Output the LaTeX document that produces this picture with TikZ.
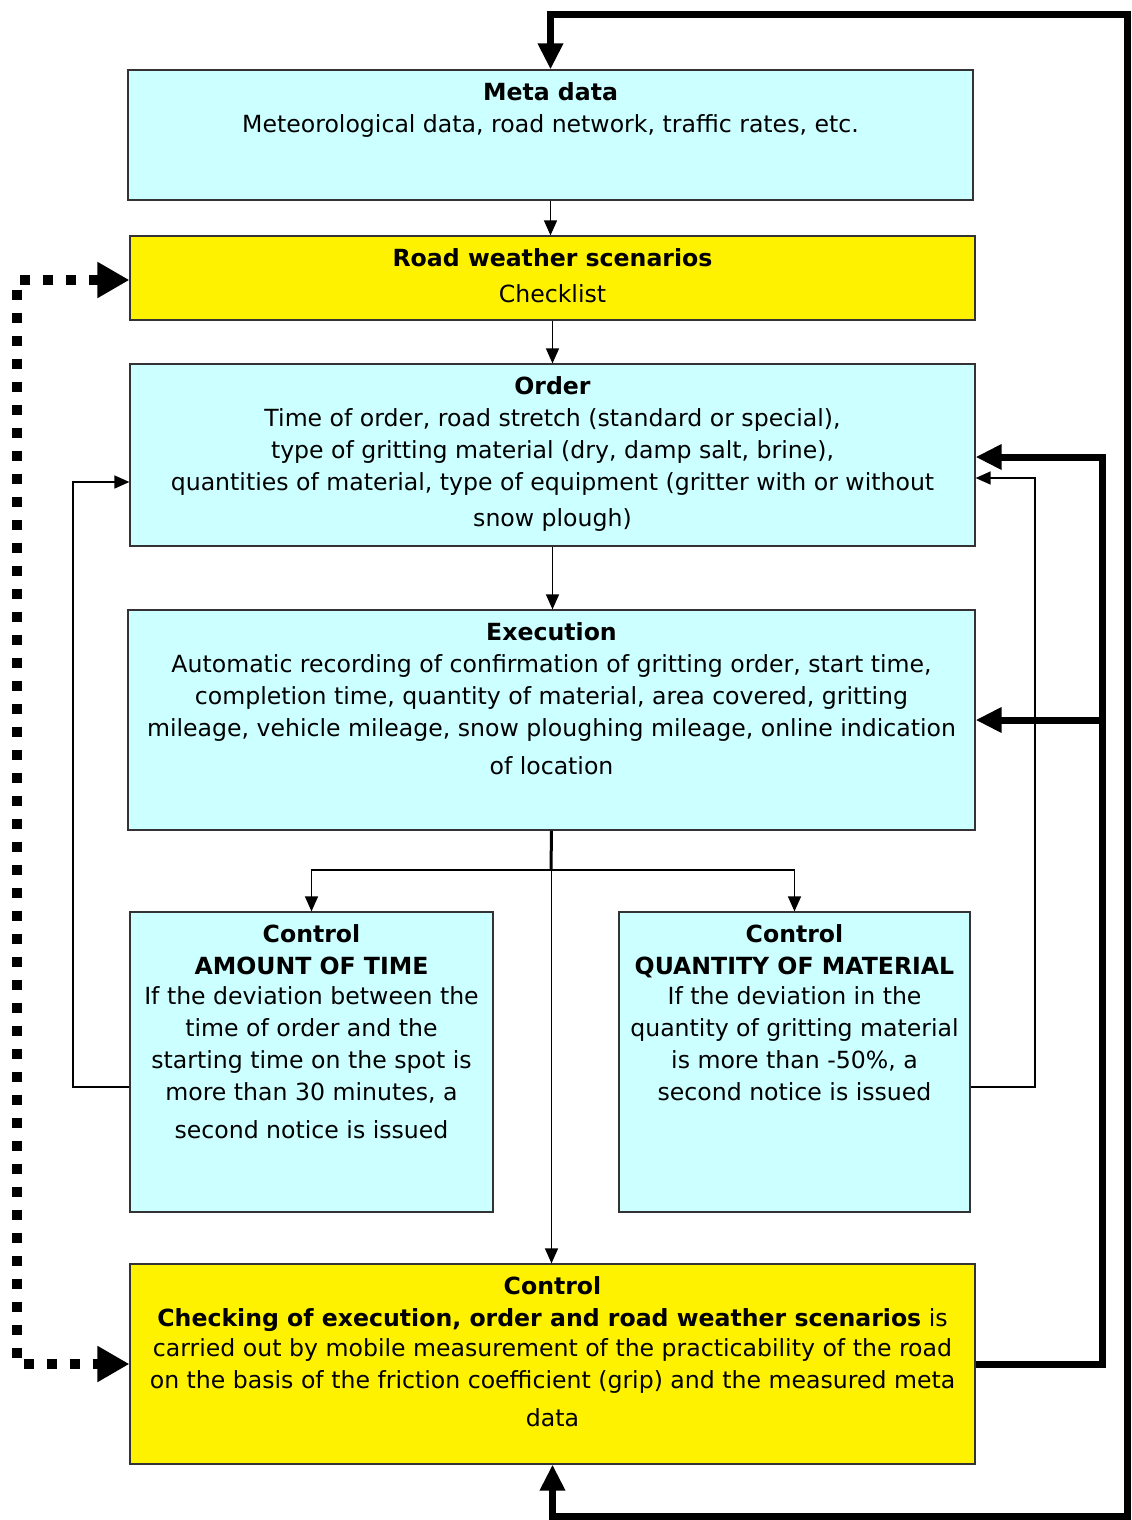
\documentclass[tikz,border=0pt]{standalone}
\usepackage{fontspec}
\setmainfont{DejaVu Sans}
\usetikzlibrary{positioning,arrows.meta}
\definecolor{boxcyan}{RGB}{204,255,255}
\definecolor{boxyellow}{RGB}{255,242,0}
\begin{document}
\begin{tikzpicture}[x=0.5pt,y=-0.5pt,
every node/.style={font=\fontsize{11.8pt}{16pt}\selectfont},
boxc/.style={draw=black!80,line width=0.6pt,fill=boxcyan,inner sep=0pt},
boxy/.style={boxc,fill=boxyellow},
boxtext/.style={align=center,inner sep=2pt},
thinarrow/.style={line width=0.7pt,-{Triangle[length=7.5pt,width=6.5pt]}},
thickline/.style={line width=3.5pt},
bigtip/.tip={Triangle[length=13pt,width=12pt]},
dottip/.tip={Triangle[length=16pt,width=17pt]},
dotline/.style={line width=5pt,dash pattern=on 5pt off 6.5pt}]

\useasboundingbox (0,0) rectangle (1131,1520);

% boxes
\node[boxc,minimum width=422.5pt,minimum height=65pt](meta) at (550.5,135) {};
\node[boxy,minimum width=422.5pt,minimum height=42pt](weather) at (552.5,278) {};
\node[boxc,minimum width=422.5pt,minimum height=91pt](order) at (552.5,455) {};
\node[boxc,minimum width=423.5pt,minimum height=110pt](exec) at (551.5,720) {};
\node[boxc,minimum width=181.5pt,minimum height=150pt](ctime) at (311.5,1062) {};
\node[boxc,minimum width=175.5pt,minimum height=150pt](cmat) at (794.5,1062) {};
\node[boxy,minimum width=422.5pt,minimum height=100pt](ctrl) at (552.5,1364) {};

% texts
\node[boxtext,below=4.5pt of meta.north](metatxt) {\textbf{Meta data}\\
Meteorological data, road network, traffic rates, etc.};
\node[boxtext,below=4.5pt of weather.north](weathertxt) {\textbf{Road weather scenarios}\\[2pt]
Checklist};
\node[boxtext,below=4.5pt of order.north](ordertxt) {\textbf{Order}\\
Time of order, road stretch (standard or special),\\
type of gritting material (dry, damp salt, brine),\\
quantities of material, type of equipment (gritter with or without\\[2pt]
snow plough)};
\node[boxtext,below=4.5pt of exec.north](exectxt) {\textbf{Execution}\\
Automatic recording of confirmation of gritting order, start time,\\
completion time, quantity of material, area covered, gritting\\
mileage, vehicle mileage, snow ploughing mileage, online indication\\[3pt]
of location};
\node[boxtext,below=4.5pt of ctime.north](ctimetxt) {\textbf{Control}\\
\textbf{AMOUNT OF TIME}\\[-1pt]
If the deviation between the\\
time of order and the\\
starting time on the spot is\\
more than 30 minutes, a\\[3pt]
second notice is issued};
\node[boxtext,below=4.5pt of cmat.north](cmattxt) {\textbf{Control}\\
\textbf{QUANTITY OF MATERIAL}\\[-1pt]
If the deviation in the\\
quantity of gritting material\\
is more than -50\%, a\\
second notice is issued};
\node[boxtext,below=4.5pt of ctrl.north](ctrltxt) {\textbf{Control}\\
\textbf{Checking of execution, order and road weather scenarios} is\\[-1pt]
carried out by mobile measurement of the practicability of the road\\
on the basis of the friction coefficient (grip) and the measured meta\\[3pt]
data};

% corner points
\coordinate (split) at (551,870);
\coordinate (loopbr) at (1127,1516);
\coordinate (looptr) at (1127,15);
\coordinate (rbus) at (1102,457);
\coordinate (rthin) at (1035,478);
\coordinate (lthin) at (73,482);
\coordinate (dtop) at (17,280);
\coordinate (dbot) at (17,1364);

% main flow
\draw[thinarrow] (meta.south) -- (meta.south |- weather.north);
\draw[thinarrow] (weather.south) -- (weather.south |- order.north);
\draw[thinarrow] (order.south) -- (order.south |- exec.north);
\draw[line width=1.5pt] (exec.south) -- (split);
\draw[thinarrow] (split) -| (ctime.north);
\draw[thinarrow] (split) -| (cmat.north);
\draw[thinarrow] (exec.south) -- (exec.south |- ctrl.north);

% feedback
\draw[thinarrow] ([yshift=-12.5pt]ctime.west) -| (lthin) -- (lthin -| order.west);
\draw[thinarrow] ([yshift=-12.5pt]cmat.east) -| (rthin) -- (rthin -| order.east);
\draw[thickline,-bigtip] (ctrl.east) -| (rbus) -- (rbus -| order.east);
\draw[thickline,-bigtip] (rbus |- exec.east) -- (exec.east);
\draw[thickline,bigtip-bigtip] (ctrl.south) -- (ctrl.south |- loopbr) -- (loopbr)
  -- (looptr) -- (looptr -| meta.north) -- (meta.north);
\draw[dotline,dottip-dottip] (weather.west |- dtop) -- (dtop) -- (dbot) -- (ctrl.west);

\end{tikzpicture}
\end{document}
